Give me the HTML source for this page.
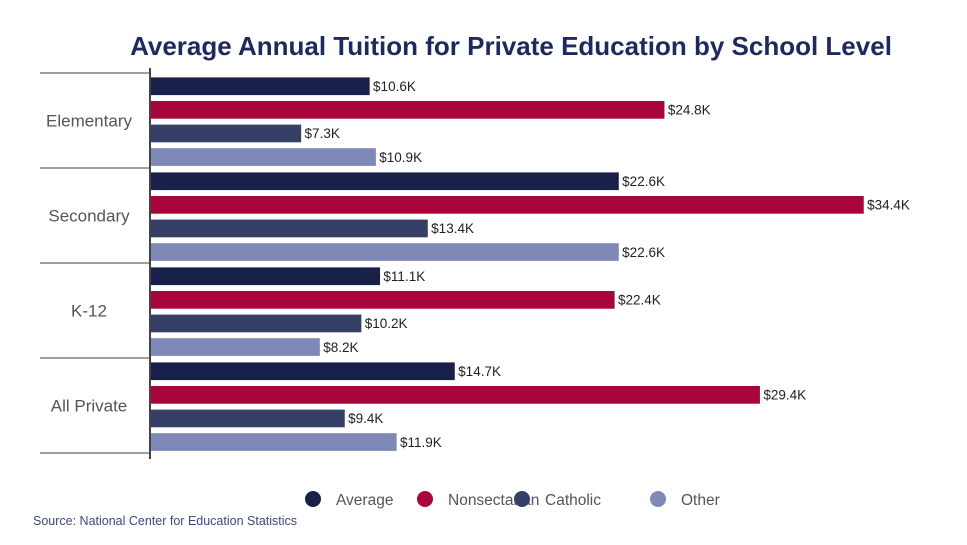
<!DOCTYPE html>
<html><head><meta charset="utf-8"><style>
body{margin:0;background:#fff;font-family:"Liberation Sans",sans-serif;}
svg{display:block}
</style></head><body>
<svg id="chart" width="967" height="545">
<text x="511" y="55" text-anchor="middle" font-size="26" font-weight="bold" fill="#1e2a5e">Average Annual Tuition for Private Education by School Level</text>
<g id="bars"></g>
<g id="legend"></g>
<text x="33" y="525" font-size="12.5" fill="#3b4a80">Source: National Center for Education Statistics</text>
</svg>
<script>
const categories = ["Elementary","Secondary","K-12","All Private"];
const seriesNames = ["Average","Nonsectarian","Catholic","Other"];
const average = [10.6,22.6,11.1,14.7];
const nonsectarian = [24.8,34.4,22.4,29.4];
const catholic = [7.3,13.4,10.2,9.4];
const other = [10.9,22.6,8.2,11.9];
const colors = ["#18204a","#a8063a","#363f66","#7e89b8"];
const series = [average,nonsectarian,catholic,other];

const ns="http://www.w3.org/2000/svg";
const g=document.getElementById('bars');
const x0=150, pxPerK=20.76, top0=73, groupH=95;
const xs=v=>x0+v*pxPerK;
function mk(t,a){const e=document.createElementNS(ns,t);for(const k in a)e.setAttribute(k,a[k]);return e;}
categories.forEach((c,i)=>{
  const gy=top0+i*groupH;
  const sep=mk('line',{x1:40,x2:150,y1:gy,y2:gy,stroke:'#666','stroke-width':1.2});
  
  
  g.appendChild(sep);
  const lab=mk('text',{x:89,y:gy+groupH/2+6,'text-anchor':'middle','font-size':17,fill:'#555'});
  lab.textContent=c;
  
  
  g.appendChild(lab);
  series.forEach((s,j)=>{
    const y=gy+4+j*23.6;
    const r=mk('rect',{x:x0,y:y,width:xs(s[i])-x0,height:18.5,fill:colors[j],stroke:'#fff','stroke-width':0.8});
    
    
    g.appendChild(r);
    const t=mk('text',{x:xs(s[i])+3,y:y+14,'font-size':13.5,fill:'#222'});
    t.textContent='$'+s[i].toFixed(1)+'K';
    
    
    g.appendChild(t);
  });
});
const last=mk('line',{x1:40,x2:150,y1:top0+4*groupH,y2:top0+4*groupH,stroke:'#666','stroke-width':1.2});


g.appendChild(last);
const ax=mk('line',{x1:150,x2:150,y1:68,y2:459,stroke:'#444','stroke-width':2});


g.appendChild(ax);
const lg=document.getElementById('legend');
const lx=[313,425,522,658];
seriesNames.forEach((n,j)=>{
  const c=mk('circle',{cx:lx[j],cy:499,r:8,fill:colors[j]});
  
  
  lg.appendChild(c);
  const t=mk('text',{x:lx[j]+23,y:505,'font-size':15.5,fill:'#555'});
  t.textContent=n;
  
  
  lg.appendChild(t);
});
</script>
</body></html>
